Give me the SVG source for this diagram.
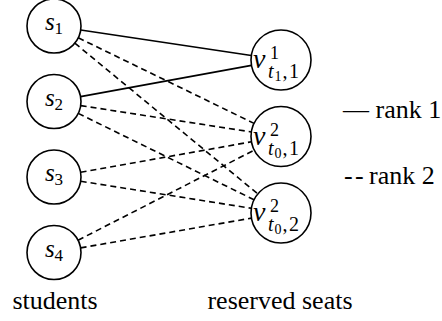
<svg xmlns="http://www.w3.org/2000/svg" width="442" height="321" viewBox="0 0 442 321">
<style>
.node{fill:#fff;stroke:#000;stroke-width:1.6}
.edge{stroke:#000;stroke-width:1.6;fill:none}
.dash{stroke-dasharray:6 4}
.lbl{font-size:26px}
</style>
<rect width="442" height="321" fill="#fff"/>
<g id="connectors">
<line class="edge" x1="80.70" y1="30.00" x2="251.33" y2="55.56"/>
<line class="edge" x1="80.56" y1="96.64" x2="251.49" y2="65.40"/>
<line class="edge dash" x1="78.28" y1="37.82" x2="254.03" y2="123.37"/>
<line class="edge dash" x1="74.84" y1="43.17" x2="257.84" y2="193.92"/>
<line class="edge dash" x1="80.68" y1="105.61" x2="251.35" y2="131.93"/>
<line class="edge dash" x1="78.23" y1="113.40" x2="254.07" y2="199.77"/>
<line class="edge dash" x1="80.58" y1="172.26" x2="251.47" y2="141.77"/>
<line class="edge dash" x1="80.67" y1="181.23" x2="251.37" y2="208.30"/>
<line class="edge dash" x1="78.04" y1="240.21" x2="254.29" y2="150.15"/>
<line class="edge dash" x1="80.60" y1="247.87" x2="251.44" y2="218.14"/>
</g>
<g font-family="'Liberation Serif', 'DejaVu Serif', serif" fill="#000">
<g id="s1"><circle class="node" cx="54" cy="26" r="27"/><text x="54" y="30" text-anchor="middle" font-size="25"><tspan font-style="italic">s</tspan><tspan font-size="17" dy="4">1</tspan></text></g>
<g id="s2"><circle class="node" cx="54" cy="101.5" r="27"/><text x="54" y="105.5" text-anchor="middle" font-size="25"><tspan font-style="italic">s</tspan><tspan font-size="17" dy="4">2</tspan></text></g>
<g id="s3"><circle class="node" cx="54" cy="177" r="27"/><text x="54" y="181" text-anchor="middle" font-size="25"><tspan font-style="italic">s</tspan><tspan font-size="17" dy="4">3</tspan></text></g>
<g id="s4"><circle class="node" cx="54" cy="252.5" r="27"/><text x="54" y="256.5" text-anchor="middle" font-size="25"><tspan font-style="italic">s</tspan><tspan font-size="17" dy="4">4</tspan></text></g>
<g id="v1"><circle class="node" cx="281" cy="60" r="30"/>
<text font-size="28"><tspan font-style="italic" x="253" y="68">v</tspan><tspan font-size="18" x="270" y="59">1</tspan><tspan font-style="italic" font-size="20" x="268" y="78">t</tspan><tspan font-size="14" x="274.5" y="81">1</tspan><tspan font-size="20" x="282.5" y="78">,</tspan><tspan font-size="20" x="289" y="78">1</tspan></text></g>
<g id="v2"><circle class="node" cx="281" cy="136.5" r="30"/>
<text font-size="28"><tspan font-style="italic" x="253" y="144.5">v</tspan><tspan font-size="18" x="270" y="135.5">2</tspan><tspan font-style="italic" font-size="20" x="268" y="154.5">t</tspan><tspan font-size="14" x="274.5" y="157.5">0</tspan><tspan font-size="20" x="282.5" y="154.5">,</tspan><tspan font-size="20" x="289" y="154.5">1</tspan></text></g>
<g id="v3"><circle class="node" cx="281" cy="213" r="30"/>
<text font-size="28"><tspan font-style="italic" x="253" y="221">v</tspan><tspan font-size="18" x="270" y="212">2</tspan><tspan font-style="italic" font-size="20" x="268" y="231">t</tspan><tspan font-size="14" x="274.5" y="234">0</tspan><tspan font-size="20" x="282.5" y="231">,</tspan><tspan font-size="20" x="289" y="231">2</tspan></text></g>
<g id="legend">
<text class="lbl" x="343" y="118">— rank 1</text>
<text class="lbl"><tspan x="344" y="184">-</tspan><tspan x="355" y="184">-</tspan><tspan x="369" y="184">rank 2</tspan></text>
</g>
<g id="captions">
<text class="lbl" x="55" y="309" text-anchor="middle">students</text>
<text class="lbl" x="280" y="309" text-anchor="middle">reserved seats</text>
</g>
</g>
</svg>
